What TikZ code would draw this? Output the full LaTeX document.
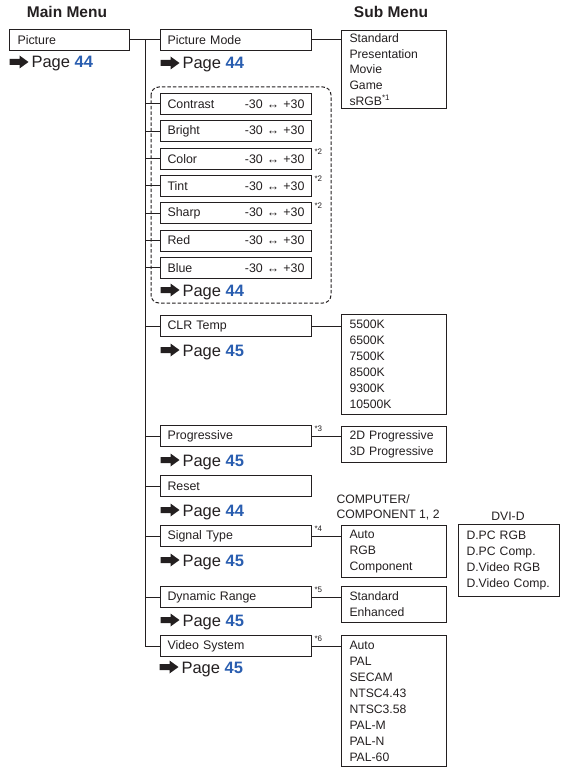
\documentclass[tikz,border=0pt]{standalone}
\usepackage{fontspec}
\setmainfont{Liberation Sans}
\usetikzlibrary{positioning}
\definecolor{mnink}{RGB}{35,31,32}
\definecolor{mnblue}{RGB}{42,94,176}

\newcommand\pgnum[1]{\textcolor{mnblue}{\bfseries #1}}
\newcommand\slrange{-30 ↔ +30}
% black arrow in front of a page reference
\newcommand\pgarrow[1]{%
  \fill[mnink] ([xshift=-2.5pt,yshift=6pt]#1.base west) -- ++(-9,-6.5) -- ++(0,3.5)
    -- ++(-10,0) -- ++(0,6) -- ++(10,0) -- ++(0,3.5) -- cycle;}

\begin{document}
\begin{tikzpicture}[x=1pt,y=-1pt,line width=1pt,color=mnink,
  itembox/.style={draw=mnink,anchor=north west,minimum width=151pt,minimum height=21pt,
    inner xsep=7pt,inner ysep=0pt,text width=137pt,align=left,font=\fontsize{12.4}{14}\selectfont},
  listbox/.style={draw=mnink,anchor=north west,minimum width=105pt,inner xsep=8pt,
    inner ysep=0pt,text width=89pt,align=left,font=\fontsize{12.2}{16}\selectfont},
  pagetxt/.style={anchor=base west,inner sep=0pt,font=\fontsize{16.5}{18}\selectfont},
  note/.style={anchor=north west,inner sep=0.5pt,font=\fontsize{8}{9}\selectfont},
  head/.style={anchor=base,inner sep=0pt,font=\fontsize{15.5}{17}\selectfont\bfseries},
  wire/.style={draw=mnink,line width=1pt}]
  \useasboundingbox (0,0) rectangle (560,770);

  % headings
  \node[head] (mainhd) at (67,18) {Main Menu};
  \node[head] (subhd) at (391,18) {Sub Menu};

  % main menu
  \node[itembox,minimum width=120pt,inner xsep=8pt,text width=104pt] (pic) at (9,29) {Picture};
  \node[pagetxt] (picpg) at (31,68) {Page \pgnum{44}};
  \pgarrow{picpg}

  % menu items
  \coordinate (tk) at (145,0);
  \node[itembox] (pm) at (160,29) {Picture Mode};
  \node[pagetxt] (pmpg) at (182,69) {Page \pgnum{44}};
  \pgarrow{pmpg}

  \draw[wire,dash pattern=on 3.5pt off 2pt,rounded corners=8pt] (151,87) rectangle (331,303);
  \node[itembox] (ctr) at (160,93) {Contrast\hfill\slrange};
  \node[itembox] (brt) at (160,120.3) {Bright\hfill\slrange};
  \node[itembox] (col) at (160,147.6) {Color\hfill\slrange};
  \node[itembox] (tnt) at (160,174.9) {Tint\hfill\slrange};
  \node[itembox] (shp) at (160,202.2) {Sharp\hfill\slrange};
  \node[itembox] (red) at (160,229.5) {Red\hfill\slrange};
  \node[itembox] (blu) at (160,256.8) {Blue\hfill\slrange};
  \node[pagetxt] (slpg) at (182,296) {Page \pgnum{44}};
  \pgarrow{slpg}
  \node[note] (n2a) at ([xshift=1.5pt]col.north east) {*2};
  \node[note] (n2b) at ([xshift=1.5pt]tnt.north east) {*2};
  \node[note] (n2c) at ([xshift=1.5pt]shp.north east) {*2};

  \node[itembox] (clr) at (160,315) {CLR Temp};
  \node[pagetxt] (clrpg) at (182,356) {Page \pgnum{45}};
  \pgarrow{clrpg}

  \node[itembox] (prg) at (160,425) {Progressive};
  \node[pagetxt] (prgpg) at (182,466) {Page \pgnum{45}};
  \pgarrow{prgpg}
  \node[note] (n3) at ([xshift=1.5pt]prg.north east) {*3};

  \node[itembox] (rst) at (160,475) {Reset};
  \node[pagetxt] (rstpg) at (182,516) {Page \pgnum{44}};
  \pgarrow{rstpg}

  \node[itembox] (sig) at (160,525) {Signal Type};
  \node[pagetxt] (sigpg) at (182,566) {Page \pgnum{45}};
  \pgarrow{sigpg}
  \node[note] (n4) at ([xshift=1.5pt]sig.north east) {*4};

  \node[itembox] (dyn) at (160,586) {Dynamic Range};
  \node[pagetxt] (dynpg) at (182,626) {Page \pgnum{45}};
  \pgarrow{dynpg}
  \node[note] (n5) at ([xshift=1.5pt]dyn.north east) {*5};

  \node[itembox] (vs) at (160,635) {Video System};
  \node[pagetxt] (vspg) at (181,673) {Page \pgnum{45}};
  \pgarrow{vspg}
  \node[note] (n6) at ([xshift=1.5pt]vs.north east) {*6};

  % sub menus
  \node[listbox,minimum height=78pt,font=\fontsize{12.2}{15.6}\selectfont] (pmsub) at (341,30)
    {Standard\\Presentation\\Movie\\Game\\sRGB\textsuperscript{\fontsize{8}{9}\selectfont*1}};
  \node[listbox,minimum height=100pt] (clrsub) at (341,314)
    {5500K\\6500K\\7500K\\8500K\\9300K\\10500K};
  \node[listbox,minimum height=36pt] (prgsub) at (341,426) {2D Progressive\\3D Progressive};
  \node[anchor=north west,inner sep=0pt,align=left,font=\fontsize{12.2}{15}\selectfont] (sighd) at (336,494)
    {COMPUTER/\\COMPONENT 1, 2};
  \node[listbox,minimum height=52pt] (sigsub) at (341,525) {Auto\\RGB\\Component};
  \node[anchor=base,inner sep=0pt,font=\fontsize{12.2}{15}\selectfont] (dvihd) at (508,520) {DVI-D};
  \node[listbox,minimum width=101pt,text width=85pt,minimum height=72pt] (dvisub) at (458,524)
    {D.PC RGB\\D.PC Comp.\\D.Video RGB\\D.Video Comp.};
  \node[listbox,minimum height=36pt] (dynsub) at (341,586) {Standard\\Enhanced};
  \node[listbox,minimum height=131pt] (vssub) at (341,635)
    {Auto\\PAL\\SECAM\\NTSC4.43\\NTSC3.58\\PAL-M\\PAL-N\\PAL-60};

  % connectors
  \draw[wire] (pic.east) -- (pm.west);
  \draw[wire] (tk |- pm.west) -- (tk |- vs.west) -- (vs.west);
  \draw[wire] (tk |- ctr.west) -- (ctr.west) (tk |- brt.west) -- (brt.west)
    (tk |- col.west) -- (col.west) (tk |- tnt.west) -- (tnt.west)
    (tk |- shp.west) -- (shp.west) (tk |- red.west) -- (red.west)
    (tk |- blu.west) -- (blu.west) (tk |- clr.west) -- (clr.west)
    (tk |- prg.west) -- (prg.west) (tk |- rst.west) -- (rst.west)
    (tk |- sig.west) -- (sig.west) (tk |- dyn.west) -- (dyn.west);
  \draw[wire] (pm.east) -- (pm.east -| pmsub.west);
  \draw[wire] (clr.east) -- (clr.east -| clrsub.west);
  \draw[wire] (prg.east) -- (prg.east -| prgsub.west);
  \draw[wire] (sig.east) -- (sig.east -| sigsub.west);
  \draw[wire] (dyn.east) -- (dyn.east -| dynsub.west);
  \draw[wire] (vs.east) -- (vs.east -| vssub.west);
\end{tikzpicture}
\end{document}
